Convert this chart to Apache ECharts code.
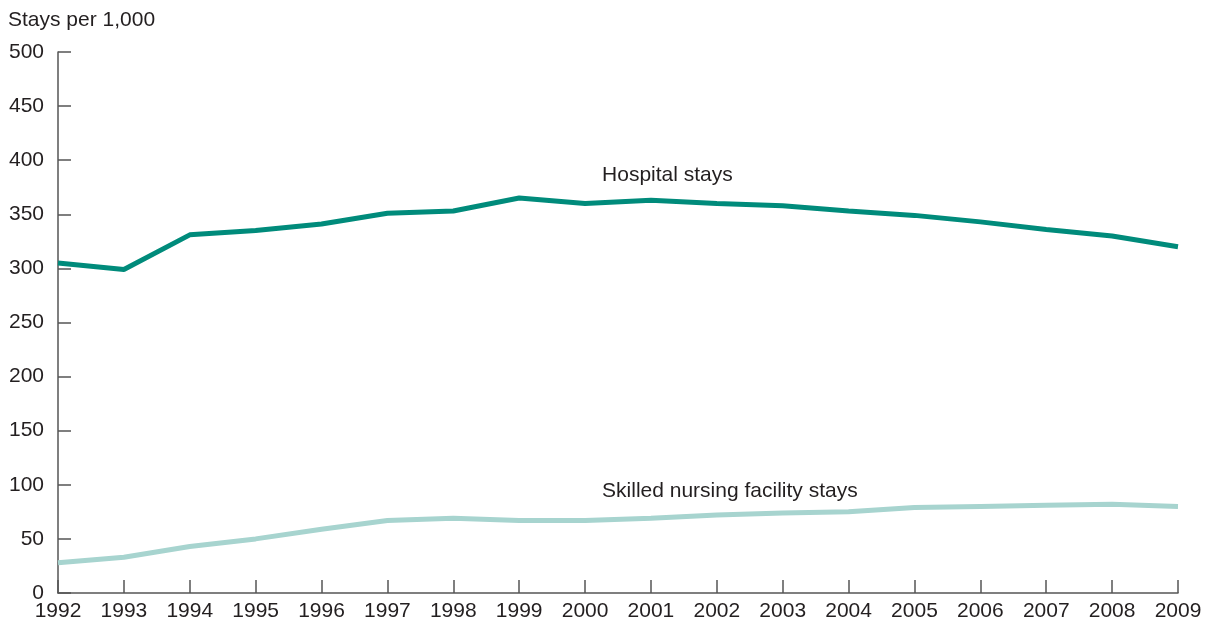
<!DOCTYPE html>
<html>
<head>
<meta charset="utf-8">
<script src="https://cdn.jsdelivr.net/npm/echarts@6/dist/echarts.min.js"></script>
<style>
  body { margin: 0; background: #fff; }
  #chart { width: 1211px; height: 631px; }
</style>
</head>
<body>
<div id="chart"></div>
<script>
var years = ["1992","1993","1994","1995","1996","1997","1998","1999","2000","2001","2002","2003","2004","2005","2006","2007","2008","2009"];
var hospitalStays = [305, 299, 331, 335, 341, 351, 353, 365, 360, 363, 360, 358, 353, 349, 343, 336, 330, 320];
var snfStays = [28, 33, 43, 50, 59, 67, 69, 67, 67, 69, 72, 74, 75, 79, 80, 81, 82, 80];
var yTicks = [0, 50, 100, 150, 200, 250, 300, 350, 400, 450, 500];

var chart = echarts.init(document.getElementById("chart"));
var textColor = "#231f20";
var axisColor = "#555555";
var font = "Liberation Sans, Arial, sans-serif";

function seriesLabel(text, year, value, dy) {
  return {
    symbol: "circle",
    symbolSize: 0,
    data: [{ coord: [year, value], value: text }],
    label: {
      show: true, position: "inside", offset: [17, dy],
      align: "left", verticalAlign: "middle",
      formatter: text, color: textColor, fontSize: 21, fontFamily: font
    }
  };
}

var option = {
  animation: false,
  textStyle: { fontFamily: font },
  title: {
    text: "Stays per 1,000",
    left: 3, top: 5,
    textStyle: { fontSize: 21, fontWeight: "normal", color: textColor, fontFamily: font }
  },
  grid: { left: 58, right: 33, top: 52, bottom: 38 },
  xAxis: {
    type: "category",
    data: years,
    boundaryGap: false,
    axisLine: { lineStyle: { color: axisColor, width: 1.5 } },
    axisTick: { inside: true, length: 13, lineStyle: { color: axisColor, width: 1.5 } },
    axisLabel: { color: textColor, fontSize: 21, margin: 8 }
  },
  yAxis: {
    type: "value",
    min: yTicks[0], max: yTicks[yTicks.length - 1], interval: 50,
    splitLine: { show: false },
    axisLine: { show: true, lineStyle: { color: axisColor, width: 1.5 } },
    axisTick: { show: true, inside: true, length: 13, lineStyle: { color: axisColor, width: 1.5 } },
    axisLabel: { color: textColor, fontSize: 21, margin: 14 }
  },
  series: [
    {
      name: "Hospital stays",
      type: "line",
      data: hospitalStays,
      symbol: "none",
      lineStyle: { color: "#008b7b", width: 5 },
      markPoint: seriesLabel("Hospital stays", "2000", hospitalStays[8], -28)
    },
    {
      name: "Skilled nursing facility stays",
      type: "line",
      data: snfStays,
      symbol: "none",
      lineStyle: { color: "#a7d4cf", width: 5 },
      markPoint: seriesLabel("Skilled nursing facility stays", "2000", snfStays[8], -29)
    }
  ]
};
chart.setOption(option);
</script>
</body>
</html>
